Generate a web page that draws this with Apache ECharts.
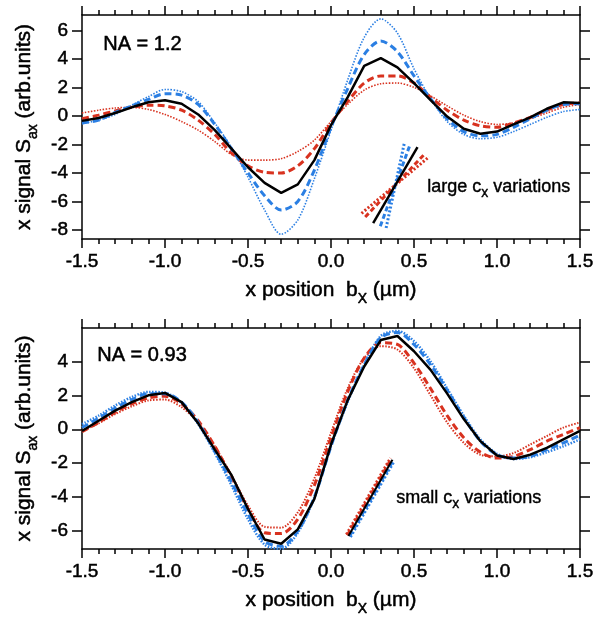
<!DOCTYPE html>
<html>
<head>
<meta charset="utf-8">
<script src="https://cdn.jsdelivr.net/npm/echarts@6.0.0/dist/echarts.min.js"></script>
<style>html,body{margin:0;padding:0;background:#fff}#main{width:608px;height:620px}</style>
</head>
<body>
<div id="main"></div>
<script>
// x positions b_x (µm), same sampling for every curve
var xPos = [-1.5,-1.4,-1.3,-1.2,-1.1,-1.0,-0.9,-0.8,-0.7,-0.6,-0.5,-0.4,-0.3,-0.2,-0.1,0.0,
            0.1,0.2,0.3,0.4,0.5,0.6,0.7,0.8,0.9,1.0,1.1,1.2,1.3,1.4,1.5];

// NA = 1.2 (large c_x variations)
var topSolid   = [-0.35,-0.15,0.2,0.6,0.95,1.1,0.85,0.1,-1.0,-2.3,-3.6,-4.7,-5.4,-4.8,-3.1,-0.65,1.3,3.5,4.05,3.4,2.3,1.1,-0.05,-0.9,-1.25,-1.1,-0.6,-0.1,0.5,0.95,0.9];
var topDashBlue= [-0.5,-0.3,0.25,0.7,1.15,1.55,1.45,0.8,-0.6,-2.3,-4.0,-5.6,-6.6,-6.0,-3.8,-0.8,1.9,4.3,5.25,4.5,2.8,1.2,-0.2,-1.1,-1.4,-1.3,-0.8,-0.2,0.4,0.8,0.85];
var topDotBlue = [-0.55,-0.3,0.1,0.75,1.35,1.85,1.7,1.0,-0.5,-2.2,-4.3,-6.6,-8.3,-7.3,-4.4,-1.0,2.5,5.5,6.8,5.8,3.3,1.2,-0.4,-1.3,-1.6,-1.5,-1.1,-0.6,-0.1,0.3,0.45];
var topDashRed = [-0.2,0.05,0.35,0.6,0.75,0.7,0.4,-0.3,-1.3,-2.6,-3.5,-3.95,-4.0,-3.5,-2.3,-0.5,1.0,2.3,2.8,2.8,2.3,1.3,0.4,-0.3,-0.7,-0.8,-0.5,-0.1,0.4,0.8,0.9];
var topDotRed  = [0.2,0.4,0.55,0.6,0.45,0.1,-0.4,-1.0,-1.8,-2.7,-3.1,-3.1,-3.0,-2.5,-1.7,-0.4,0.8,1.8,2.25,2.3,2.0,1.4,0.7,0.05,-0.4,-0.6,-0.5,-0.2,0.2,0.6,0.8];

// NA = 0.93 (small c_x variations)
var botSolid   = [-0.1,0.5,1.1,1.6,2.0,2.14,1.6,0.35,-1.2,-2.7,-4.7,-6.5,-6.75,-5.9,-4.1,-0.9,1.7,3.7,5.26,5.5,4.6,3.5,2.1,0.6,-0.7,-1.55,-1.75,-1.5,-1.1,-0.6,-0.1];
var botDashBlue= [0.1,0.65,1.25,1.75,2.1,2.1,1.6,0.4,-1.3,-3.1,-5.0,-6.6,-6.9,-6.0,-4.0,-1.0,1.7,3.8,5.4,5.7,5.0,3.8,2.3,0.7,-0.7,-1.5,-1.7,-1.6,-1.2,-0.8,-0.35];
var botDotBlue = [0.3,0.8,1.4,1.9,2.2,2.15,1.55,0.3,-1.4,-3.3,-5.3,-6.8,-7.05,-6.1,-4.0,-1.0,1.6,3.8,5.5,5.8,5.2,4.0,2.4,0.8,-0.6,-1.45,-1.75,-1.65,-1.35,-1.0,-0.6];
var botDashRed = [-0.15,0.4,1.0,1.5,1.85,1.95,1.5,0.5,-1.0,-2.8,-4.7,-6.1,-6.15,-5.3,-3.3,-0.5,2.2,4.2,5.1,5.0,3.9,2.4,0.8,-0.5,-1.35,-1.7,-1.6,-1.2,-0.7,-0.3,0.1];
var botDotRed  = [-0.1,0.35,0.9,1.35,1.7,1.75,1.3,0.4,-1.0,-2.7,-4.5,-5.75,-5.8,-4.9,-2.9,-0.2,2.4,4.2,4.9,4.7,3.6,2.0,0.4,-0.8,-1.5,-1.6,-1.4,-0.9,-0.4,0.1,0.4];

// little slope glyphs (segment end points, data units)
var glyphTopDotBlue  = [[0.332,-7.86],[0.443,-1.84]];
var glyphTopDashBlue = [[0.297,-7.74],[0.478,-1.96]];
var glyphTopSolid    = [[0.254,-7.51],[0.521,-2.19]];
var glyphTopDashRed  = [[0.206,-7.09],[0.569,-2.61]];
var glyphTopDotRed   = [[0.184,-6.83],[0.591,-2.87]];
var glyphBotDotBlue  = [[0.117,-6.35],[0.382,-1.85]];
var glyphBotDashBlue = [[0.112,-6.3],[0.377,-1.8]];
var glyphBotSolid    = [[0.105,-6.3],[0.37,-1.8]];
var glyphBotDashRed  = [[0.098,-6.25],[0.363,-1.75]];
var glyphBotDotRed   = [[0.093,-6.2],[0.358,-1.7]];

var topYTicks = [-8,-6,-4,-2,0,2,4,6];
var botYTicks = [-6,-4,-2,0,2,4];

var BLUE = '#2b7fe3', RED = '#d8321f', BLACK = '#000';
var FONT = 'Liberation Sans';
var INK = '#000';

var myChart = echarts.init(document.getElementById('main'));

function pairs(arr) {
	return xPos.map(function (x, i) { return [x, arr[i]]; });
}

// a thin outline of the same colour makes the text look a bit heavier, like the scan
var subRich = {
	s: { fontSize: 14, fontFamily: FONT, color: INK, verticalAlign: 'bottom', lineHeight: 14, textBorderColor: INK, textBorderWidth: 0.5 },
	n: { fontSize: 21, fontFamily: FONT, color: INK, lineHeight: 32, textBorderColor: INK, textBorderWidth: 0.5 }
};

function xAxes(grid) {
	var line = { onZero: false, lineStyle: { color: BLACK, width: 1.5 } };
	return [{
		gridIndex: grid, type: 'value', min: -1.5, max: 1.5, interval: 0.5, position: 'bottom',
		axisLine: line,
		axisTick: { length: 9, lineStyle: { color: BLACK, width: 1.5 } },
		minorTick: { show: true, splitNumber: 5, length: 5, lineStyle: { color: BLACK, width: 1.5 } },
		splitLine: { show: false },
		axisLabel: { fontSize: 19, fontFamily: FONT, color: INK, margin: 13,
			textBorderColor: INK, textBorderWidth: 0.5,
			formatter: function (v) { return v.toFixed(1); } },
		name: '{n|x position  b}{s|X}{n| (µm)}',
		nameLocation: 'middle', nameGap: 35,
		nameTextStyle: { rich: subRich }
	}, {
		gridIndex: grid, type: 'value', min: -1.5, max: 1.5, interval: 0.5, position: 'top',
		axisLine: line,
		axisTick: { length: 9, lineStyle: { color: BLACK, width: 1.5 } },
		minorTick: { show: true, splitNumber: 5, length: 5, lineStyle: { color: BLACK, width: 1.5 } },
		splitLine: { show: false },
		axisLabel: { show: false }
	}];
}

function yAxes(grid, lo, hi, ticks) {
	var line = { show: true, onZero: false, lineStyle: { color: BLACK, width: 1.5 } };
	return [{
		gridIndex: grid, type: 'value', min: lo, max: hi, position: 'left',
		axisLine: line,
		axisTick: { show: true, length: 10, customValues: ticks, lineStyle: { color: BLACK, width: 1.5 } },
		axisLabel: { customValues: ticks, fontSize: 19, fontFamily: FONT, color: INK, margin: 14,
			textBorderColor: INK, textBorderWidth: 0.5 },
		splitLine: { show: false },
		name: '{n|x signal S}{s|ax}{n| (arb.units)}',
		nameLocation: 'middle', nameGap: 36,
		nameTextStyle: { rich: subRich }
	}, {
		gridIndex: grid, type: 'value', min: lo, max: hi, position: 'right',
		axisLine: line,
		axisTick: { show: true, length: 10, customValues: ticks, lineStyle: { color: BLACK, width: 1.5 } },
		axisLabel: { show: false },
		splitLine: { show: false }
	}];
}

function curve(name, data, xi, yi, color, type, width, smooth) {
	return {
		name: name, type: 'line', xAxisIndex: xi, yAxisIndex: yi,
		data: data, showSymbol: false, smooth: smooth, silent: true,
		lineStyle: { color: color, width: width, type: type }
	};
}

var dotted = [1.5, 1.5], dashed = [7, 4];
var noteRich = {
	n: { fontSize: 18, fontFamily: FONT, fill: INK, lineHeight: 26, stroke: INK, lineWidth: 0.4 },
	s: { fontSize: 14, fontFamily: FONT, fill: INK, verticalAlign: 'bottom', lineHeight: 14, stroke: INK, lineWidth: 0.4 }
};

option = {
	backgroundColor: '#fff',
	animation: false,
	grid: [
		{ left: 82, right: 28, top: 15, height: 224 },
		{ left: 82, right: 28, top: 328, height: 221 }
	],
	xAxis: xAxes(0).concat(xAxes(1)),
	yAxis: yAxes(0, -8.63, 7.07, topYTicks).concat(yAxes(1, -7.06, 5.97, botYTicks)),
	series: [
		curve('top dot red', pairs(topDotRed), 0, 0, RED, dotted, 1.6, 0.3),
		curve('top dot blue', pairs(topDotBlue), 0, 0, BLUE, dotted, 1.6, 0.3),
		curve('top dash red', pairs(topDashRed), 0, 0, RED, dashed, 3, 0.3),
		curve('top dash blue', pairs(topDashBlue), 0, 0, BLUE, dashed, 3, 0.3),
		curve('top solid', pairs(topSolid), 0, 0, BLACK, 'solid', 2.5, false),
		curve('g dot red', glyphTopDotRed, 0, 0, RED, [2, 2], 3, false),
		curve('g dash red', glyphTopDashRed, 0, 0, RED, [5, 3], 3, false),
		curve('g dot blue', glyphTopDotBlue, 0, 0, BLUE, [2, 2], 3, false),
		curve('g dash blue', glyphTopDashBlue, 0, 0, BLUE, [5, 3], 3, false),
		curve('g solid', glyphTopSolid, 0, 0, BLACK, 'solid', 2.5, false),

		curve('bot dot red', pairs(botDotRed), 2, 2, RED, dotted, 2, 0.3),
		curve('bot dot blue', pairs(botDotBlue), 2, 2, BLUE, dotted, 2.5, 0.3),
		curve('bot dash red', pairs(botDashRed), 2, 2, RED, dashed, 3, 0.3),
		curve('bot dash blue', pairs(botDashBlue), 2, 2, BLUE, dashed, 3, 0.3),
		curve('bot solid', pairs(botSolid), 2, 2, BLACK, 'solid', 2.5, false),
		curve('bg dot red', glyphBotDotRed, 2, 2, RED, [2, 2], 3, false),
		curve('bg dot blue', glyphBotDotBlue, 2, 2, BLUE, [2, 2], 3, false),
		curve('bg dash red', glyphBotDashRed, 2, 2, RED, [5, 3], 3, false),
		curve('bg dash blue', glyphBotDashBlue, 2, 2, BLUE, [5, 3], 3, false),
		curve('bg solid', glyphBotSolid, 2, 2, BLACK, 'solid', 2, false)
	],
	graphic: [
		{ type: 'text', left: 103, top: 34, style: { text: 'NA = 1.2', fontSize: 20, fontFamily: FONT, fill: INK, stroke: INK, lineWidth: 0.5 } },
		{ type: 'text', left: 97, top: 345, style: { text: 'NA = 0.93', fontSize: 20, fontFamily: FONT, fill: INK, stroke: INK, lineWidth: 0.5 } },
		{ type: 'text', left: 427, top: 178, style: { text: '{n|large c}{s|x}{n| variations}', rich: noteRich } },
		{ type: 'text', left: 396, top: 489, style: { text: '{n|small c}{s|x}{n| variations}', rich: noteRich } }
	]
};
myChart.setOption(option);
</script>
</body>
</html>
